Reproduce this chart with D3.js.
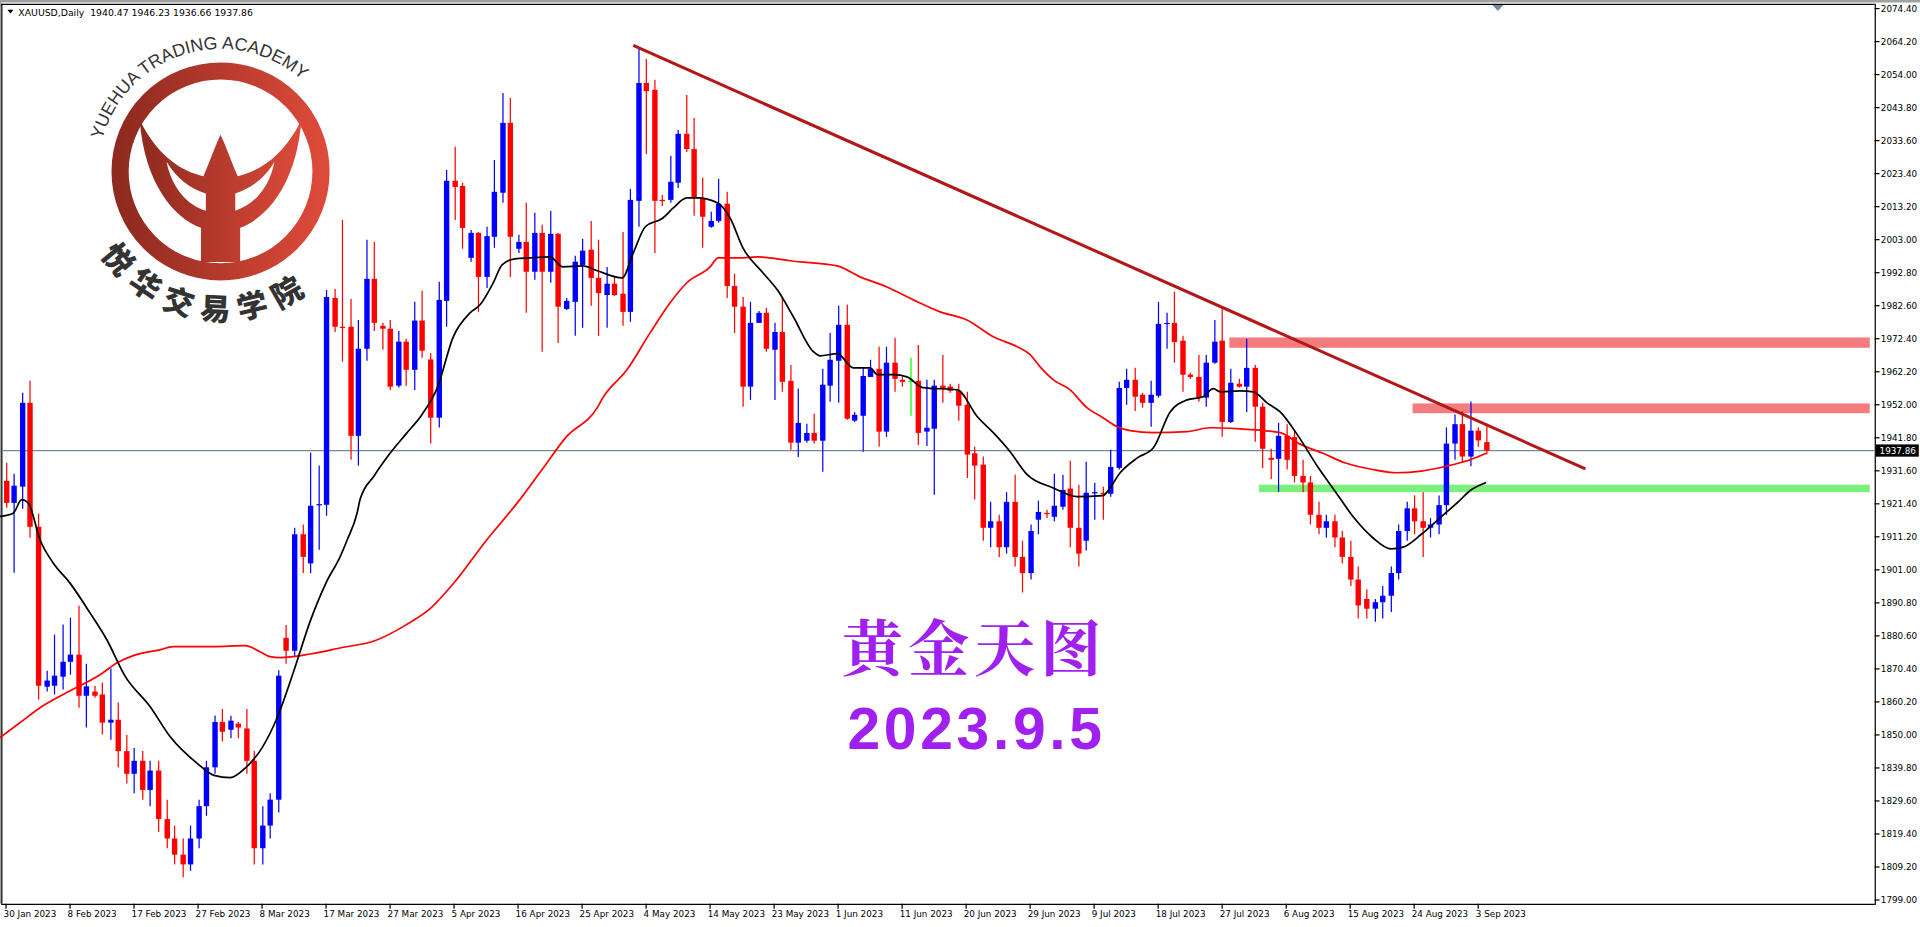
<!DOCTYPE html>
<html><head><meta charset="utf-8">
<script src="https://cdn.jsdelivr.net/npm/d3@7"></script>
<style>html,body{margin:0;padding:0;background:#fff;overflow:hidden}</style>
</head><body>
<script>
// ---- DATA ----
const symbolTitle = "XAUUSD,Daily  1940.47 1946.23 1936.66 1937.86";
// [open, high, low, close] per daily bar
const candles = [
[1928.5,1934.1,1920.2,1921.7],[1921.7,1930.7,1900.1,1927.0],[1926.7,1955.7,1919.9,1952.6],[1952.6,1959.4,1910.9,1914.3],
[1914.3,1918.3,1860.9,1865.2],[1864.9,1869.8,1863.4,1866.8],[1865.2,1881.0,1862.5,1868.3],[1868.0,1884.1,1864.0,1872.6],
[1872.6,1886.2,1868.6,1874.8],[1874.8,1889.9,1858.4,1862.1],[1862.1,1872.0,1852.3,1865.0],[1863.4,1865.2,1861.5,1862.1],
[1862.5,1866.2,1850.1,1853.8],[1853.8,1870.5,1848.5,1854.7],[1854.7,1860.0,1840.0,1845.0],[1845,1850,1835,1838],
[1838,1846,1832,1842],[1842,1845,1830,1833],[1833,1842,1828,1839],[1839,1842,1820,1824],
[1824,1830,1815,1818],[1818,1822,1810,1813],[1813,1818,1806,1810],[1810,1822,1808,1818],
[1818,1830,1815,1828],[1828,1842,1825,1840],[1840,1856,1838,1854],[1854,1858,1848,1851],
[1851.6,1855.9,1849,1854.4],[1853.5,1854,1849,1852.3],[1852,1858,1838,1842],[1842,1845,1810,1815],
[1815,1828,1810,1822],[1822,1832,1818,1830],[1830,1870,1826,1868.3],[1880,1884,1872,1876],
[1876,1914,1874,1912],[1912,1915,1900,1905],[1903,1937.2,1900,1920.8],[1921,1933.2,1907.2,1921.3],
[1921.1,1987.5,1917.7,1985.3],[1985.0,1987.8,1974.5,1976.1],[1976.1,2009.1,1965.3,1975.8],[1976.1,1984.7,1935.0,1942.4],
[1942.4,1978.2,1933.2,1969.3],[1969.3,2003.0,1965.6,1990.9],[1990.9,2002.3,1974.8,1977.3],[1976.4,1977.3,1969.0,1975.5],
[1975.5,1978.2,1956.6,1957.6],[1957.9,1974.8,1957.3,1971.5],[1971.5,1972.4,1957.9,1962.8],[1962.8,1983.8,1956.6,1978.0],
[1978.0,1987.2,1966.5,1968.7],[1966,1968,1940,1948],[1948,1990.0,1945,1984.4],[1984.1,2024.6,1976.1,2021.2],
[2021.2,2031.7,2009.1,2019.3],[2019.6,2020.6,2000.2,2006.6],[1997.4,2006.0,1996.2,2005.1],[2005.1,2005.4,1980.7,1991.5],
[1991.5,2007.0,1988.1,2004.1],[2003.9,2027.6,2000.5,2017.8],[2017.5,2048.3,2014.4,2039.1],[2039.1,2046.8,1991.5,2003.9],
[2000.2,2004.5,1998.9,2002.3],[2002.3,2014.4,1980.4,1993.1],[1993.1,2011.3,1990.6,2005.1],[2005.1,2007.6,1968.4,1993.1],
[1993.1,2011.9,1989.7,2004.8],[2004.8,2005.1,1971.1,1982.3],[1981.6,1985.0,1981.3,1984.1],[1983.8,1998.0,1973.3,1996.2],
[1995.2,2003.3,1975.8,1999.6],[1999.9,2008.8,1982.6,1991.2],[1991.2,2003.0,1973.3,1986.5],[1985.9,1994.6,1975.8,1989.4],
[1989.4,1991.5,1985.6,1985.9],[1986.3,2005.4,1976.4,1980.7],[1980.7,2018.7,1977.6,2015.3],[2015.0,2062.2,2007.0,2051.4],
[2051.4,2058.8,2029.5,2048.9],[2049.3,2052.4,1998.9,2015.0],[2015.3,2016.8,2013.4,2015.0],[2015.3,2028.9,2014.4,2020.9],
[2020.6,2036.9,2019.0,2035.7],[2035.7,2047.7,2030.1,2031.0],[2031.0,2040.6,2010.4,2016.2],[2015.9,2022.1,2000.5,2010.1],
[2007.0,2011.6,2006.7,2008.8],[2008.8,2021.8,2008.2,2014.1],[2014.1,2017.8,1985.0,1988.7],[1988.7,1992.5,1974.2,1982.3],
[1982.3,1985.3,1951.4,1957.6],[1957.6,1983.8,1953.5,1977.3],[1977.3,1981.0,1977.3,1980.4],[1980.4,1982.0,1968.4,1969.3],
[1969.0,1977.3,1953.5,1974.5],[1974.5,1985.0,1956.0,1959.1],[1959.4,1964.3,1938.1,1940.3],[1940.3,1957.0,1935.9,1946.4],
[1940.9,1946.1,1940.3,1943.3],[1943.3,1949.2,1940.0,1940.9],[1940.9,1963.1,1931.3,1958.2],[1957.9,1974.2,1952.9,1965.9],
[1965.6,1982.6,1952.6,1976.7],[1976.7,1982.9,1947.4,1947.7],[1947.1,1949.8,1946.7,1948.9],[1948.6,1963.7,1937.5,1960.9],
[1960.6,1965.9,1960.6,1963.1],[1963.1,1969.9,1939.0,1943.7],[1943.7,1969.9,1942.1,1965.0],[1965.0,1972.7,1956.0,1960.0],
[1959.7,1960.6,1957.6,1959.1],[1959.4,1966.5,1948.6,1959.4],[1959.4,1970.5,1939.6,1943.3],[1943.7,1959.7,1939.3,1944.9],
[1944.6,1959.7,1924.2,1957.9],[1957.9,1967.4,1952.6,1956.9],[1957.6,1958.5,1955.7,1956.3],[1956.3,1958.5,1947.1,1951.7],
[1952.0,1956.0,1929.4,1936.6],[1937.0,1939.0,1922.7,1933.2],[1933.5,1936,1910,1914],[1914,1922,1908,1916],
[1916,1918,1905,1908],[1908,1925,1906,1922],[1922,1930.4,1902,1905],[1905,1910,1894,1900],
[1900,1915,1898,1913],[1916.5,1922.4,1912,1918.9],[1918.6,1919.6,1917,1918.3],[1917.4,1930.7,1916,1920.8],
[1920.5,1930.4,1919.6,1925.7],[1926.1,1934.7,1908,1914],[1914,1927.3,1902,1906],[1910,1934.4,1907,1924.8],
[1924.6,1927.9,1916.5,1925.0],[1924.8,1926.7,1916.5,1924.3],[1924.5,1938.1,1923.6,1932.8],[1932.5,1959.1,1932,1957.2],
[1957.2,1963.1,1952.0,1959.7],[1959.7,1963.4,1950.1,1954.5],[1955.1,1955.7,1951.1,1952.6],[1952.6,1959.4,1945.2,1955.1],
[1954.8,1983.8,1954.2,1977.0],[1977.0,1980.4,1969.3,1977.3],[1977.3,1986.9,1965.0,1971.4],[1971.8,1973.3,1956.0,1961.3],
[1961.3,1961.9,1960.0,1960.6],[1960.6,1967.4,1952.9,1954.2],[1954.2,1967.4,1951.4,1965.0],[1965.0,1978.2,1964.7,1971.5],
[1971.8,1982.0,1942.1,1946.7],[1946.7,1963.1,1946.4,1958.8],[1958.5,1960.0,1957.3,1957.6],[1957.6,1972.4,1949.8,1963.4],
[1963.4,1964.3,1940.6,1951.4],[1951.4,1952.6,1932.5,1938.4],[1935.6,1938.4,1929.1,1935.0],[1935.3,1946.4,1925.1,1942.4],
[1942.4,1946,1932,1935],[1942,1944,1928,1930],[1930,1935,1925,1928],[1928,1930,1915,1918],
[1918,1922,1912,1914],[1914,1918,1911,1916],[1916,1918,1908,1911],[1911,1913,1903,1905],
[1905,1910,1896,1898],[1898,1902,1886,1890],[1892,1895,1886,1889],[1889,1892,1885,1891],
[1891,1896,1886,1893],[1893,1902,1888,1900],[1900,1915,1898,1913],[1913,1922,1910,1920],
[1920,1924,1912,1916],[1916,1925,1905,1914],[1914,1917,1911,1915],[1915,1924,1912,1921],
[1921,1945,1918,1940],[1940,1949,1935,1946],[1946,1950,1934,1936],[1936,1953,1933,1944],
[1944,1945,1939,1941],[1940.47,1946.23,1936.66,1937.86]
];
// fast moving average: [bar index, price]
const maFast = [[-0.75,1917.5],[0.9,1918.5],[1.96,1922.7],[2.8,1921.6],[4.25,1910.3],[5.9,1903.1],[8,1896.9],[10.5,1887.7],
[12.6,1879.4],[14.9,1868.1],[18,1858.8],[20.5,1849.5],[24,1841],[26,1837.5],[28,1836.8],[30,1840],[32,1846],[34,1856],
[36,1870],[38,1885],[40,1897],[41.75,1905],[42.6,1910],[43.9,1918.7],[44.25,1922.7],[46,1930],[48,1937],[50,1943],[52,1949],
[53.9,1957.2],[55.9,1973],[58,1980.4],[59.25,1982.9],[60.9,1989.7],[62,1995.2],[63.6,1997.1],[65.5,1997.4],[68,1997.7],
[69.6,1994.6],[72.1,1994.9],[73.9,1993.4],[77,1991.2],[78.4,1998.9],[79.9,2007],[82.1,2009.7],[83.4,2012.8],[85.1,2015.9],
[86.4,2015.9],[88.9,2014.4],[90.5,2009.7],[92.1,2000.5],[94.6,1992.8],[96.4,1987.5],[98.4,1979.2],[100.9,1968.4],[101.75,1967.1],
[103.9,1967.8],[105.9,1963.4],[108,1963.4],[108.9,1961.3],[110.9,1961.3],[112.6,1960.6],[114.6,1957.3],[118.9,1956.6],
[121.4,1948.3],[123.4,1943.4],[125.5,1937.5],[127.6,1930.5],[130.9,1926.3],[133.9,1923.6],[137.1,1923.9],[137.6,1925],
[139.25,1931],[141.4,1935.6],[143.4,1938.7],[145.5,1949.8],[147.6,1953.5],[149.6,1954.5],[150.9,1957],[151.75,1956],
[154.25,1956.3],[155.9,1956],[157.6,1952.6],[159.25,1949.8],[161.6,1942],[163.9,1933],[166.2,1925],[168.5,1917],
[170.8,1911],[173.1,1907.5],[174.6,1908],[176.9,1912],[179.2,1917],[181.5,1922],[183,1925.5],[185,1928]];
// slow moving average: [bar index, price]
const maSlow = [[-0.75,1849.2],[1.75,1853.8],[4.25,1858.4],[7.6,1863.1],[11.75,1868.6],[13.9,1872.3],[15.9,1874.5],[19.25,1876.3],
[20.9,1877.3],[25.9,1877.3],[29.9,1877.6],[31.75,1875.7],[33,1874.2],[34.25,1873.9],[38,1875],[42,1877],[46,1879],[50,1884],
[53,1889],[56,1897],[60,1910],[64,1922],[67,1932],[70,1942],[73.9,1951.1],[74.6,1954.2],[77.6,1962.8],[80.5,1974.2],
[83,1983.5],[85.1,1989.7],[88,1994.6],[89,1997.4],[92.1,1997.4],[93.9,1997.7],[96.4,1997.1],[98,1996.5],[103.9,1994.9],
[106.75,1991.5],[110.1,1988.4],[113.4,1984.4],[116.75,1980.7],[120.1,1978.2],[123.4,1973],[126.4,1969.9],[128,1967.5],
[129.25,1963.7],[130.9,1959.7],[133,1956.6],[135.1,1951.1],[137.1,1948],[138.9,1945.2],[140.5,1944],[143.4,1943.4],
[147.6,1943.7],[150.5,1944.9],[153.9,1944.6],[159.25,1943.4],[161.6,1940],[164.6,1937],[167.4,1934],[170.8,1932],
[173.8,1931],[176.9,1931.5],[180,1933],[183,1935],[185,1937]];
const dateLabels = ["30 Jan 2023","8 Feb 2023","17 Feb 2023","27 Feb 2023","8 Mar 2023","17 Mar 2023","27 Mar 2023","5 Apr 2023",
"16 Apr 2023","25 Apr 2023","4 May 2023","14 May 2023","23 May 2023","1 Jun 2023","11 Jun 2023","20 Jun 2023","29 Jun 2023",
"9 Jul 2023","18 Jul 2023","27 Jul 2023","6 Aug 2023","15 Aug 2023","24 Aug 2023","3 Sep 2023"];
const labelEvery = 8;
const priceTicks = [2074.40,2064.20,2054.00,2043.80,2033.60,2023.40,2013.20,2003.00,1992.80,1982.60,1972.40,1962.20,1952.00,
1941.80,1931.60,1921.40,1911.20,1901.00,1890.80,1880.60,1870.40,1860.20,1850.00,1839.80,1829.60,1819.40,1809.20,1799.00];
const lastPrice = 1937.86;
const trendLine = [[78.4,2063.0],[197.4,1932.2]];
// zones: [startIndex, topPrice, bottomPrice, color]
const zones = [[152.9,1972.8,1969.6,"#f47c7c"],[175.8,1952.4,1949.4,"#f47c7c"],[156.6,1927.3,1925.0,"#7cf07c"]];
const titleCN = "黄金天图";
const dateText = "2023.9.5";

// ---- DRAW ----
const W=1567,H=757, plotR=1530, plotB=738;
const svg=d3.select("body").append("svg").attr("width",1920).attr("height",927)
  .attr("viewBox",`0 0 ${W} ${H}`).attr("preserveAspectRatio","none")
  .style("display","block").style("font-family","Tahoma, 'DejaVu Sans', sans-serif");
const x=d3.scaleLinear().domain([0,185]).range([4.9,4.9+6.53*185]);
const y=d3.scaleLinear().domain([2074.4,1809.2]).range([7,708]);

// frame
svg.append("rect").attr("x",0).attr("y",0).attr("width",W).attr("height",H).attr("fill","#fff");
svg.append("line").attr("x1",0).attr("x2",W).attr("y1",1).attr("y2",1).attr("stroke","#a0a0a0").attr("stroke-width",2);
svg.append("line").attr("x1",0.5).attr("x2",0.5).attr("y1",0).attr("y2",plotB).attr("stroke","#a0a0a0");
svg.append("line").attr("x1",1.5).attr("x2",1.5).attr("y1",3).attr("y2",plotB).attr("stroke","#000");
svg.append("line").attr("x1",1).attr("x2",plotR).attr("y1",3.5).attr("y2",3.5).attr("stroke","#000");
svg.append("line").attr("x1",plotR+0.5).attr("x2",plotR+0.5).attr("y1",3).attr("y2",plotB+1).attr("stroke","#000");
svg.append("line").attr("x1",1).attr("x2",plotR).attr("y1",plotB+0.5).attr("y2",plotB+0.5).attr("stroke","#000");
svg.append("path").attr("d","M1218,4 L1227,4 L1222.5,9 Z").attr("fill","#7788a0");

// logo
const logo=svg.append("g").attr("transform","translate(180,140)");
const defs=svg.append("defs");
const gr=defs.append("linearGradient").attr("id","lg").attr("x1","0").attr("x2","1");
gr.append("stop").attr("offset","0").attr("stop-color","#8e2a1f");
gr.append("stop").attr("offset","1").attr("stop-color","#dd4a3a");
logo.append("circle").attr("r",82).attr("fill","none").attr("stroke","url(#lg)").attr("stroke-width",14);
logo.append("path").attr("fill","url(#lg)")
 .attr("d","M-66,-42 C-62,10 -38,38 -16,46 L-16,74 L16,74 L16,46 C38,38 62,10 66,-42 C50,-10 30,0 14,4 C8,-10 4,-22 0,-30 C-4,-22 -8,-10 -14,4 C-30,0 -50,-10 -66,-42 Z");
logo.append("path").attr("fill","#fff").attr("d","M-44,-8 C-40,14 -26,28 -12,32 L-12,18 C-24,14 -36,6 -44,-8 Z");
logo.append("path").attr("fill","#fff").attr("d","M44,-8 C40,14 26,28 12,32 L12,18 C24,14 36,6 44,-8 Z");
defs.append("path").attr("id","arcTop").attr("d","M-96.6,-25.9 A100,100 0 0 1 86.6,-50");
defs.append("path").attr("id","arcBot").attr("d","M-86,52 A100,100 0 0 0 90,50");
logo.append("text").attr("font-size",14.5).attr("fill","#333").attr("font-family","'Liberation Sans', Arial, sans-serif")
 .append("textPath").attr("href","#arcTop").text("YUEHUA TRADING ACADEMY");
logo.append("text").attr("font-size",25).attr("font-weight","900").attr("fill","#333").attr("letter-spacing",3)
 .attr("font-family","'Noto Sans CJK SC', sans-serif").attr("dy",18)
 .append("textPath").attr("href","#arcBot").attr("startOffset","2%").text("悦华交易学院");

// price tick labels
const ax=svg.append("g").attr("font-size",7.2).attr("fill","#000");
priceTicks.forEach(p=>{
  const yy=y(p);
  ax.append("line").attr("x1",plotR).attr("x2",plotR+4).attr("y1",yy).attr("y2",yy).attr("stroke","#000");
  ax.append("text").attr("x",plotR+5).attr("y",yy+2.5).text(p.toFixed(2));
});
// date labels
dateLabels.forEach((d,k)=>{
  const xx=x(k*labelEvery);
  ax.append("line").attr("x1",xx).attr("x2",xx).attr("y1",plotB).attr("y2",plotB+4).attr("stroke","#000");
  ax.append("text").attr("x",xx-2).attr("y",plotB+11).text(d);
});

// zones
zones.forEach(z=>{
  svg.append("rect").attr("x",x(z[0])).attr("y",y(z[1])).attr("width",plotR-x(z[0])-4)
    .attr("height",y(z[2])-y(z[1])).attr("fill",z[3]);
});
// current price line
svg.append("line").attr("x1",2).attr("x2",plotR).attr("y1",y(lastPrice)).attr("y2",y(lastPrice)).attr("stroke","#778899").attr("stroke-width",1);

// candles
const cg=svg.append("g");
candles.forEach((c,i)=>{
  const [o,h,l,cl]=c;
  const col = cl>o ? "#0000ff" : (cl<o ? "#ff0000" : "#00ff00");
  const xx=Math.round(x(i))+0.5;
  cg.append("line").attr("x1",xx).attr("x2",xx).attr("y1",y(h)).attr("y2",y(l)).attr("stroke",col).attr("stroke-width",1);
  const top=y(Math.max(o,cl)), bot=y(Math.min(o,cl));
  cg.append("rect").attr("x",xx-2.2).attr("y",top).attr("width",4.4).attr("height",Math.max(1,bot-top)).attr("fill",col);
});

// MAs
const line=d3.line().x(d=>x(d[0])).y(d=>y(d[1])).curve(d3.curveMonotoneX);
svg.append("path").attr("d",line(maSlow)).attr("fill","none").attr("stroke","#ff0000").attr("stroke-width",1.4);
svg.append("path").attr("d",line(maFast)).attr("fill","none").attr("stroke","#000").attr("stroke-width",1.4);

// trend line
svg.append("line").attr("x1",x(trendLine[0][0])).attr("y1",y(trendLine[0][1]))
 .attr("x2",x(trendLine[1][0])).attr("y2",y(trendLine[1][1])).attr("stroke","#b21818").attr("stroke-width",2.5);

// last price label
svg.append("rect").attr("x",plotR+1).attr("y",y(lastPrice)-5).attr("width",35).attr("height",10).attr("fill","#000");
svg.append("text").attr("x",plotR+4).attr("y",y(lastPrice)+2.6).attr("font-size",7.2).attr("fill","#fff").text(lastPrice.toFixed(2));

// header
svg.append("path").attr("d","M6,8 L11,8 L8.5,11 Z").attr("fill","#000");
svg.append("text").attr("x",15).attr("y",13).attr("font-size",7.6).attr("fill","#000").attr("xml:space","preserve").text(symbolTitle);

// titles
svg.append("text").attr("x",795).attr("y",548).attr("text-anchor","middle").attr("font-size",50).attr("font-weight","bold")
 .attr("fill","#a020f0").attr("font-family","'Noto Serif CJK SC','Noto Sans CJK SC',serif").attr("letter-spacing",4).text(titleCN);
svg.append("text").attr("x",797).attr("y",612).attr("text-anchor","middle").attr("font-size",48).attr("font-weight","bold")
 .attr("fill","#a020f0").attr("font-family","'Liberation Sans', Arial, sans-serif").attr("letter-spacing",3).text(dateText);
</script>
</body></html>
